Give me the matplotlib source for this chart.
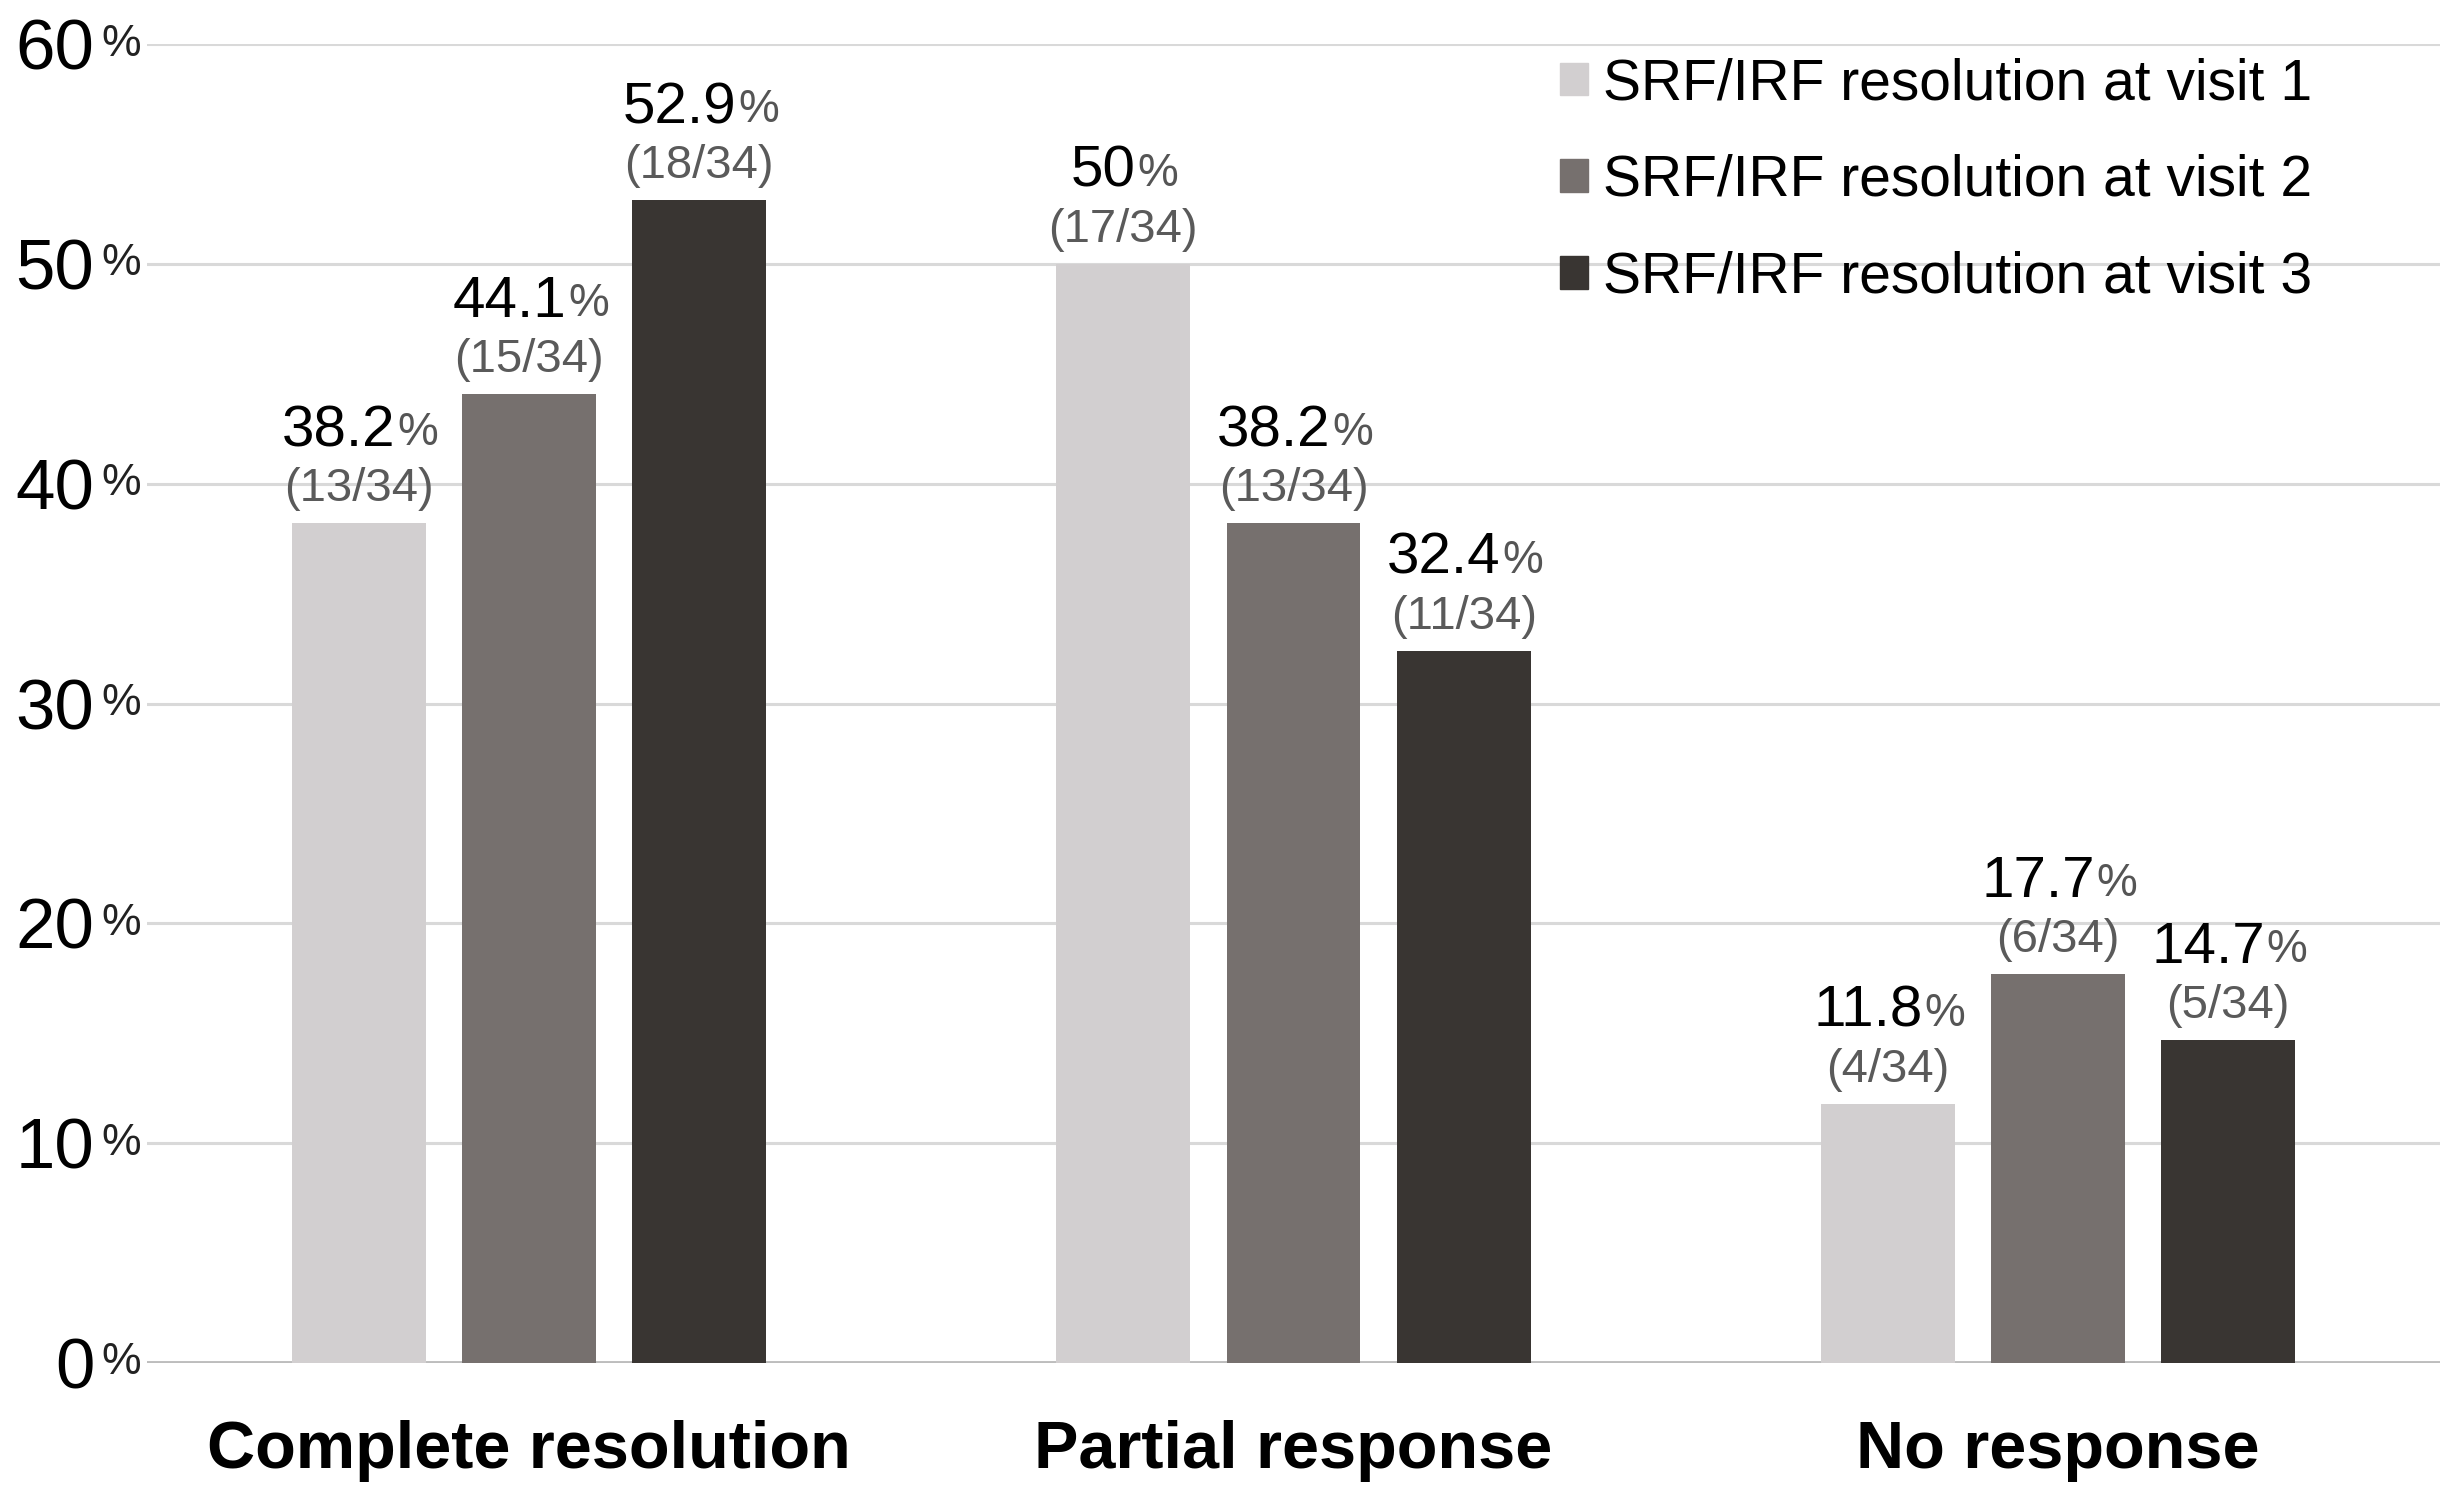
import numpy as np
import matplotlib
matplotlib.use("Agg")
import matplotlib.pyplot as plt
from matplotlib.patches import Patch

plt.rcParams['font.family'] = ['Liberation Sans', 'DejaVu Sans']

categories = ["Complete resolution", "Partial response", "No response"]
series = ["SRF/IRF resolution at visit 1", "SRF/IRF resolution at visit 2", "SRF/IRF resolution at visit 3"]
visit1 = [38.2, 50.0, 11.8]
visit2 = [44.1, 38.2, 17.7]
visit3 = [52.9, 32.4, 14.7]
count1 = [13, 17, 4]
count2 = [15, 13, 6]
count3 = [18, 11, 5]
total = 34
yticks = [0, 10, 20, 30, 40, 50, 60]

colors = ["#d2cfd0", "#76706e", "#393532"]

W, H = 2452, 1506
fig = plt.figure(figsize=(W / 100, H / 100), dpi=100)
ax = fig.add_axes([147 / W, 143 / H, (2440 - 147) / W, (1363 - 44) / H])

x = np.arange(len(categories))
width = 0.175
step = 0.2226

for k, (vals, cnts) in enumerate(zip([visit1, visit2, visit3], [count1, count2, count3])):
    xs = x + (k - 1) * step
    ax.bar(xs, vals, width=width, color=colors[k], zorder=3, label=series[k])
    for xi, v, c in zip(xs, vals, cnts):
        ax.annotate(f"({c}/{total})", xy=(xi, v), xytext=(0, 34), textcoords="offset pixels",
                    ha="center", va="center", fontsize=34, color="#5a5a5a")
        t = ax.annotate(f"{v:g}", xy=(xi, v), xytext=(-20, 92), textcoords="offset pixels",
                        ha="center", va="center", fontsize=42, color="black")
        ax.annotate("%", xy=(1, 0.5), xycoords=t, xytext=(2, -2), textcoords="offset pixels",
                    ha="left", va="center", fontsize=33, color="#555555")

ax.set_xlim(-0.5, 2.5)
ax.set_ylim(0, 60)
ax.set_yticks(yticks)
ax.set_yticklabels([str(v) for v in yticks], fontsize=51)
ax.tick_params(axis="y", length=0, pad=38)
for v in yticks:
    ax.annotate("%", xy=(0, v), xycoords=("axes fraction", "data"), xytext=(-6, 0),
                textcoords="offset pixels", ha="right", va="center", fontsize=32, color="#222222")

ax.set_xticks(x)
ax.set_xticklabels(categories, fontsize=48, fontweight="bold")
ax.tick_params(axis="x", length=0, pad=41)

ax.yaxis.grid(True, color="#d9d9d9", linewidth=2.2)
ax.set_axisbelow(True)
ax.axhline(0, color="#bdbdbd", linewidth=2.8, zorder=2)
for s in ax.spines.values():
    s.set_visible(False)

handles = [Patch(color=c) for c in colors]
ax.legend(handles, series, loc="upper left", bbox_to_anchor=(1560 / W, 0.962),
          bbox_transform=fig.transFigure, frameon=False, fontsize=41,
          handlelength=0.5, handleheight=0.5, handletextpad=0.25,
          labelspacing=0.75, borderpad=0, borderaxespad=0)

fig.savefig("out.png", dpi=100)
